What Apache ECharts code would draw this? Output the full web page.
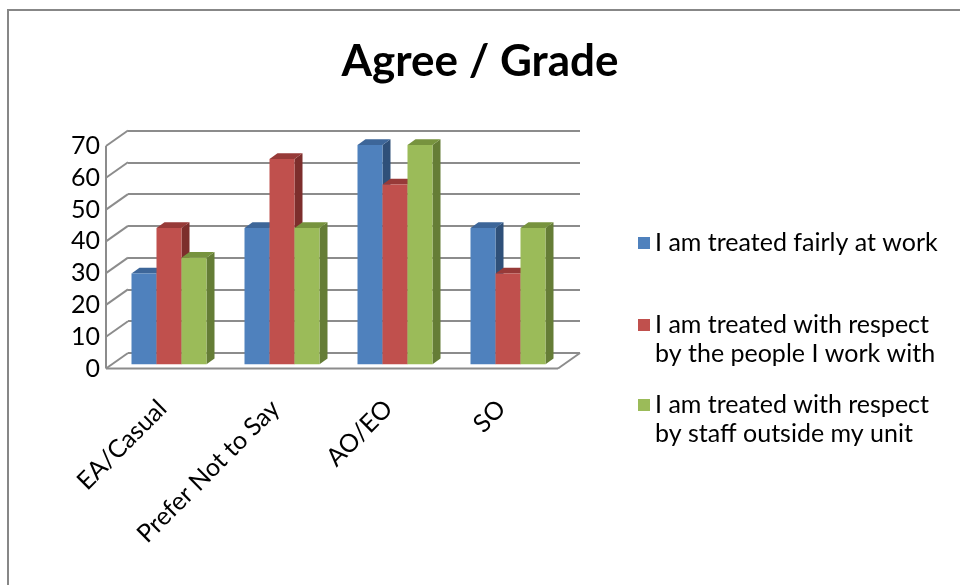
<!DOCTYPE html>
<html>
<head>
<meta charset="utf-8">
<title>Agree / Grade</title>
<script src="https://cdn.jsdelivr.net/npm/echarts@6/dist/echarts.min.js"></script>
<style>
  html, body { margin: 0; padding: 0; background: #ffffff; }
  #chart { width: 960px; height: 585px; }
</style>
</head>
<body>
<div id="chart"></div>
<script>
// Survey results: share of staff agreeing, by grade
const categories = ['EA/Casual', 'Prefer Not to Say', 'AO/EO', 'SO'];
const treatedFairly = [28.6, 42.9, 69.0, 42.9];
const respectColleagues = [42.9, 64.6, 56.6, 28.6];
const respectOutsideUnit = [33.5, 42.9, 69.0, 42.9];
const seriesNames = [
  'I am treated fairly at work',
  'I am treated with respect by the people I work with',
  'I am treated with respect by staff outside my unit'
];
const legendLabels = [
  'I am treated fairly at work',
  'I am treated with respect\nby the people I work with',
  'I am treated with respect\nby staff outside my unit'
];
const yTicks = [0, 10, 20, 30, 40, 50, 60, 70];

// Pseudo-3D geometry (pixels)
const FRONT = { left: 106, top: 146, width: 452, height: 222.5 };
const WALL = { dx: 22, dy: -15.5 };        // depth of the back wall
const BAR_OFF = { dx: 6.5, dy: -4.2 };     // columns sit slightly behind the floor edge
const BAR_DEPTH = { dx: 8, dy: -5.7 };     // depth of each column
const BAR_FRAC = 25 / 113;                 // column width as share of category band

const palette = [
  { front: '#4F81BD', top: '#3D6699', side: '#2F5079' },
  { front: '#C0504D', top: '#973A38', side: '#7D2E2C' },
  { front: '#9BBB59', top: '#77933E', side: '#657D36' }
];
const gridColor = '#8C8C8C';
const FONT = 'Lato, "Open Sans", sans-serif';

function columnRenderer(k) {
  const c = palette[k];
  return function (params, api) {
    const ci = api.value(0);
    const v = api.value(1);
    const base = api.coord([ci, 0]);
    const top = api.coord([ci, v]);
    const band = api.size([1, 0])[0];
    const bw = band * BAR_FRAC;
    const x0 = base[0] - 1.5 * bw + k * bw + BAR_OFF.dx;
    const x1 = x0 + bw;
    const yb = base[1] + BAR_OFF.dy;
    const yt = top[1] + BAR_OFF.dy;
    const dx = BAR_DEPTH.dx, dy = BAR_DEPTH.dy;
    return {
      type: 'group',
      children: [
        { type: 'polygon', shape: { points: [[x1, yb], [x1 + dx, yb + dy], [x1 + dx, yt + dy], [x1, yt]] }, style: { fill: c.side } },
        { type: 'polygon', shape: { points: [[x0, yt], [x1, yt], [x1 + dx, yt + dy], [x0 + dx, yt + dy]] }, style: { fill: c.top } },
        { type: 'rect', shape: { x: x0, y: yt, width: bw, height: yb - yt }, style: { fill: c.front } }
      ]
    };
  };
}

// Left side wall and floor outline, drawn from the value axis ticks
function wallRenderer(params, api) {
  const v = api.value(1);
  const p = api.coord([0, v]);
  const band = api.size([1, 0])[0];
  const xl = p[0] - band / 2;
  const y = p[1];
  const line = (a, b) => ({
    type: 'line',
    shape: { x1: a[0], y1: a[1], x2: b[0], y2: b[1] },
    style: { stroke: gridColor, lineWidth: 2 }
  });
  const children = [line([xl, y], [xl + WALL.dx, y + WALL.dy])];
  if (v === yTicks[0]) {
    const xr = xl + band * categories.length;
    const yTop = api.coord([0, yTicks[yTicks.length - 1]])[1];
    children.push(line([xl, y], [xr, y]));
    children.push(line([xr, y], [xr + WALL.dx, y + WALL.dy]));
    children.push(line([xl, y], [xl, yTop]));
  }
  return { type: 'group', children };
}

const seriesData = [treatedFairly, respectColleagues, respectOutsideUnit];

const option = {
  backgroundColor: '#ffffff',
  animation: false,
  title: {
    text: 'Agree / Grade',
    left: 'center',
    top: 35,
    textStyle: { fontFamily: FONT, fontWeight: 'bold', fontSize: 44, color: '#000000' }
  },
  graphic: [{
    type: 'rect',
    shape: { x: 8, y: 10, width: 1000, height: 620 },
    style: { fill: 'none', stroke: '#878787', lineWidth: 2 },
    z: -1
  }],
  // One legend per entry; wrapped entries get a leading blank line so the
  // swatch sits beside the first line of text
  legend: legendLabels.map((label, i) => ({
    data: [seriesNames[i]],
    left: 638,
    top: [228.5, 281.5, 361.5][i],
    padding: 0,
    icon: 'rect',
    itemWidth: 12,
    itemHeight: 12,
    selectedMode: false,
    formatter: () => (i === 0 ? label : '\n' + label),
    textStyle: { fontFamily: FONT, fontSize: 25, color: '#000000', lineHeight: 29 }
  })),
  grid: [
    { left: FRONT.left, top: FRONT.top, width: FRONT.width, height: FRONT.height },
    { left: FRONT.left + WALL.dx, top: FRONT.top + WALL.dy, width: FRONT.width, height: FRONT.height }
  ],
  xAxis: [
    {
      gridIndex: 0, type: 'category', data: categories,
      axisLine: { show: false }, axisTick: { show: false },
      axisLabel: { rotate: 45, margin: 36, interval: 0, fontFamily: FONT, fontSize: 25, color: '#000000' }
    },
    { gridIndex: 1, type: 'category', data: categories, show: false }
  ],
  yAxis: [
    {
      gridIndex: 0, type: 'value', min: 0, max: 70, interval: 10,
      axisLine: { show: false }, axisTick: { show: false }, splitLine: { show: false },
      axisLabel: { margin: 6, fontFamily: FONT, fontSize: 25, color: '#000000' }
    },
    {
      gridIndex: 1, type: 'value', min: 0, max: 70, interval: 10,
      axisLine: { show: false }, axisTick: { show: false }, axisLabel: { show: false },
      splitLine: { show: true, lineStyle: { color: gridColor, width: 2 } }
    }
  ],
  series: [
    {
      type: 'custom', name: 'wall', xAxisIndex: 0, yAxisIndex: 0, z: 1,
      renderItem: wallRenderer, silent: true,
      data: yTicks.map(v => [0, v]), encode: { x: 0, y: 1 }
    }
  ].concat(seriesData.map((vals, k) => ({
    type: 'custom',
    name: seriesNames[k],
    xAxisIndex: 0, yAxisIndex: 0, z: 2,
    itemStyle: { color: palette[k].front },
    renderItem: columnRenderer(k),
    data: vals.map((v, i) => [i, v]),
    encode: { x: 0, y: 1 }
  })))
};

const chart = echarts.init(document.getElementById('chart'), null, { renderer: 'canvas' });
chart.setOption(option);
</script>
</body>
</html>
